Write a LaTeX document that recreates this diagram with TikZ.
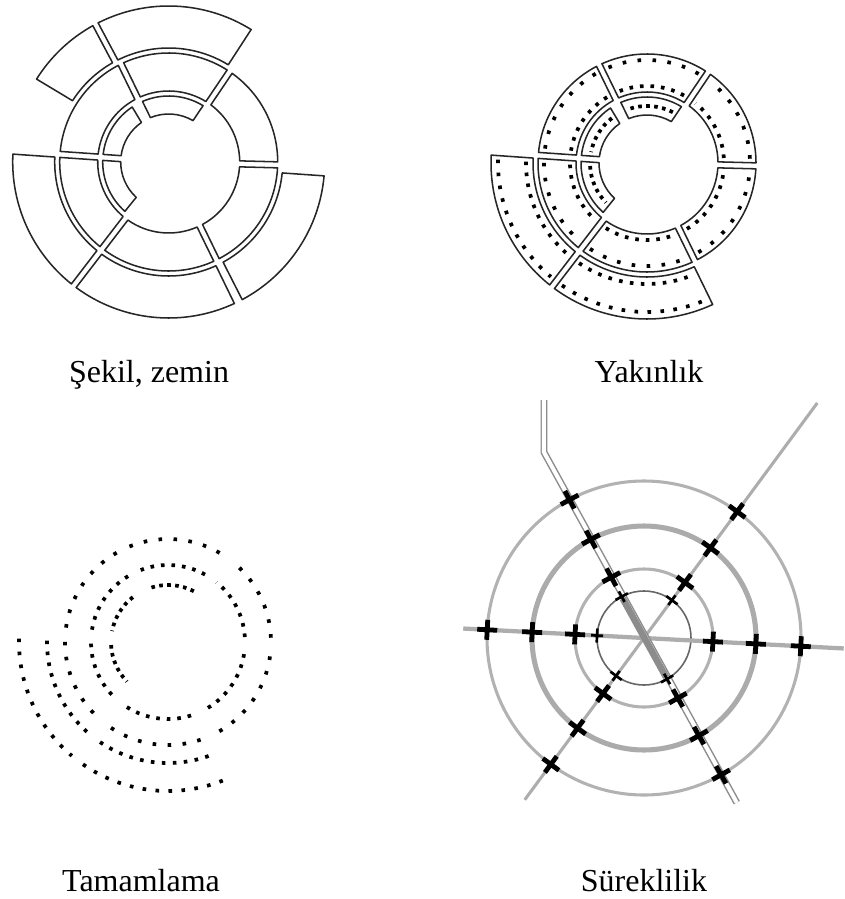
\documentclass[tikz,border=0pt]{standalone}
\usepackage{fontspec}
\setmainfont{Liberation Serif}
\usetikzlibrary{calc}

\newcommand{\sgap}{3}
% annular sector: inner radius, outer radius, from, to
\newcommand{\ringseg}[4]{%
  \draw[segline] ({#3+asin(\sgap/#2)}:#2)
    arc[start angle={#3+asin(\sgap/#2)}, end angle={#4-asin(\sgap/#2)}, radius=#2]
    -- ({#4-asin(\sgap/#1)}:#1)
    arc[start angle={#4-asin(\sgap/#1)}, end angle={#3+asin(\sgap/#1)}, radius=#1] -- cycle;}
% dotted arc: radius, from, to, gap
\newcommand{\dotrow}[4]{%
  \draw[dotline, dash pattern=on 2.7pt off #4] ({#2+asin(7/#1)}:#1)
    arc[start angle={#2+asin(7/#1)}, end angle={#3-asin(7/#1)}, radius=#1];}
\newcommand{\dotset}{%
  \foreach \a/\b in {56/116,116/176,176/232.5,232.5/296,296/358.5,-1.5/56}{%
    \dotrow{77}{\a}{\b}{5.2pt}
    \dotrow{103}{\a}{\b}{8.55pt}}
  \foreach \a/\b in {176/232.5,232.5/296}{%
    \dotrow{121}{\a}{\b}{5.55pt}
    \dotrow{149}{\a}{\b}{7.05pt}}
  \foreach \a/\b in {56/116,121/176,176/231}{\dotrow{57}{\a}{\b}{3.3pt}}}
\newcommand{\innerset}{%
  \foreach \a/\b in {56/116,116/176,176/232.5,232.5/296,296/358.5,-1.5/56}{\ringseg{71}{109}{\a}{\b}}
  \foreach \a/\b in {56/116,121/176,176/231}{\ringseg{48}{66}{\a}{\b}}
  \foreach \a/\b in {176/232.5,232.5/296}{\ringseg{114}{156}{\a}{\b}}}

\begin{document}
\begin{tikzpicture}[x=0.75pt, y=0.75pt]
  \tikzset{segline/.style={draw=black!85, line width=1.15pt, line join=round},
           dotline/.style={black, line width=2.8pt},
           lbl/.style={anchor=base, font=\fontsize{24}{28}\selectfont},
           ringA/.style={draw=black!30, line width=2.3pt},
           ringB/.style={draw=black!33, line width=3.8pt},
           ringC/.style={draw=black!60, line width=1.2pt},
           road/.style={draw=black!32, line width=3.2pt},
           rail/.style={draw=black!45, line width=1.1pt, double=white, double distance=3pt},
           crossmk/.pic={\draw[line width=3.6pt] (-10,0) -- (10,0) (0,-10) -- (0,10);},
           crosssm/.pic={\draw[line width=2pt] (-6,0) -- (6,0) (0,-7) -- (0,7);}}
  \useasboundingbox (0,0) rectangle (844,-899);

  % figure / ground
  \begin{scope}[shift={(168.7,-162)}]
    \innerset
    \foreach \a/\b in {57/118,118/149,297/356}{\ringseg{114}{156}{\a}{\b}}
  \end{scope}

  % proximity
  \begin{scope}[shift={(647,-163)}]
    \innerset
    \dotset
  \end{scope}

  % closure
  \begin{scope}[shift={(168,-642)}]
    \dotset
  \end{scope}

  % continuity
  \begin{scope}[shift={(644,-638)}]
    \coordinate (o) at (0,0);
    \draw[ringA] (o) circle (157);
    \draw[ringB] (o) circle (112);
    \draw[ringA] (o) circle (69);
    \draw[ringC] (o) circle (47);
    \coordinate (hw) at (177:181);
    \coordinate (he) at (-3:200);
    \coordinate (ne) at (53.6:292);
    \coordinate (sw) at (233.6:201);
    \coordinate (nwk) at (118.3:211);
    \coordinate (nwt) at ($(nwk)+(0,52)$);
    \coordinate (se) at (299.4:189);
    \draw[road] (hw) -- (he);
    \draw[road, line width=2.3pt] (ne) -- (sw);
    \draw[rail] (nwt) -- (nwk) -- (se);
    \draw[black!45, line width=5pt] (118.3:45) -- (299.4:45);
    \foreach \t in {177,-3,53.6,233.6,118.3,299.4}{
      \foreach \r in {69,112,157}{\pic[rotate=\t] at (\t:\r) {crossmk};}}
    \foreach \t in {177,53.6,233.6,118.3,299.4}{\pic[rotate=\t] at (\t:47) {crosssm};}
  \end{scope}

  \node[lbl] (figlbl) at (149,-382) {Şekil, zemin};
  \node[lbl] (proxlbl) at (649,-382) {Yakınlık};
  \node[lbl] (closlbl) at (141,-891) {Tamamlama};
  \node[lbl] (contlbl) at (644,-891) {Süreklilik};
\end{tikzpicture}
\end{document}
